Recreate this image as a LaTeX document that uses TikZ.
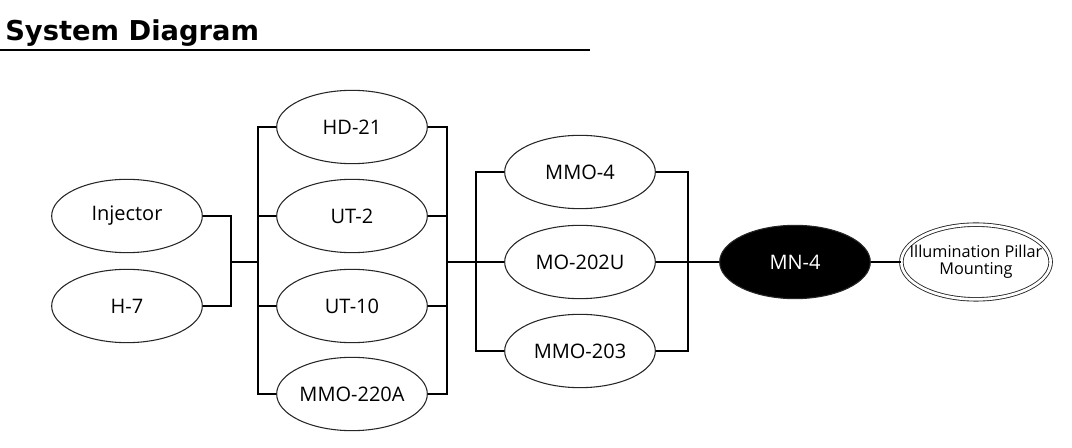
\documentclass[tikz,border=0pt]{standalone}
\usepackage{fontspec}
\setmainfont{Open Sans}
\newfontfamily\titlefont{DejaVu Sans}
\usetikzlibrary{shapes.geometric}
\begin{document}
\begin{tikzpicture}[x=0.75pt,y=-0.75pt,
  box/.style={ellipse,draw=black!85,line width=0.8pt,minimum width=113pt,minimum height=55pt,inner sep=0pt,font=\fontsize{15}{16}\selectfont},
  darkbox/.style={box,fill=black,text=white},
  dblbox/.style={box,double=white,double distance=2pt,line width=0.65pt,minimum width=112pt,minimum height=56pt,inner xsep=-14pt,inner ysep=0pt,align=center,font=\fontsize{12.2}{12.75}\selectfont},
  wire/.style={line width=1.6pt,line join=miter}]
\useasboundingbox (0,0) rectangle (1072,448);
\node[anchor=base west,inner sep=0pt,font=\titlefont\bfseries\fontsize{20.5}{24}\selectfont] (title) at (5,41) {System Diagram};
\draw[line width=1.1pt] (0,50) -- (590,50);
% column 1
\node[box] (inj) at (127,216) {Injector};
\node[box] (h7) at (127,306) {H-7};
% column 2
\node[box] (hd) at (352,127) {HD-21};
\node[box] (ut2) at (352,216) {UT-2};
\node[box] (ut10) at (352,306) {UT-10};
\node[box] (mmo220) at (352,394) {MMO-220A};
% column 3
\node[box] (mmo4) at (580,172) {MMO-4};
\node[box] (mo) at (580,262) {MO-202U};
\node[box] (mmo203) at (580,351) {MMO-203};
% right
\node[darkbox] (mn) at (795,262) {MN-4};
\node[dblbox] (ill) at (976,262) {Illumination Pillar\\Mounting};
% junctions
\coordinate (j1) at (231,262);
\coordinate (c2L) at (258,262);
\coordinate (c2R) at (447,262);
\coordinate (c3L) at (476,262);
\coordinate (c3R) at (688,262);
% wires
\draw[wire] (inj.east) -| (j1);
\draw[wire] (h7.east) -| (j1);
\draw[wire] (j1) -- (c2L);
\draw[wire] (hd.west) -| (c2L);
\draw[wire] (ut2.west) -| (c2L);
\draw[wire] (ut10.west) -| (c2L);
\draw[wire] (mmo220.west) -| (c2L);
\draw[wire] (hd.east) -| (c2R);
\draw[wire] (ut2.east) -| (c2R);
\draw[wire] (ut10.east) -| (c2R);
\draw[wire] (mmo220.east) -| (c2R);
\draw[wire] (c2R) -- (mo.west);
\draw[wire] (mmo4.west) -| (c3L);
\draw[wire] (mmo203.west) -| (c3L);
\draw[wire] (mmo4.east) -| (c3R);
\draw[wire] (mmo203.east) -| (c3R);
\draw[wire] (mo.east) -- (mn.west);
\draw[wire] (mn.east) -- (ill.west);
\end{tikzpicture}
\end{document}
